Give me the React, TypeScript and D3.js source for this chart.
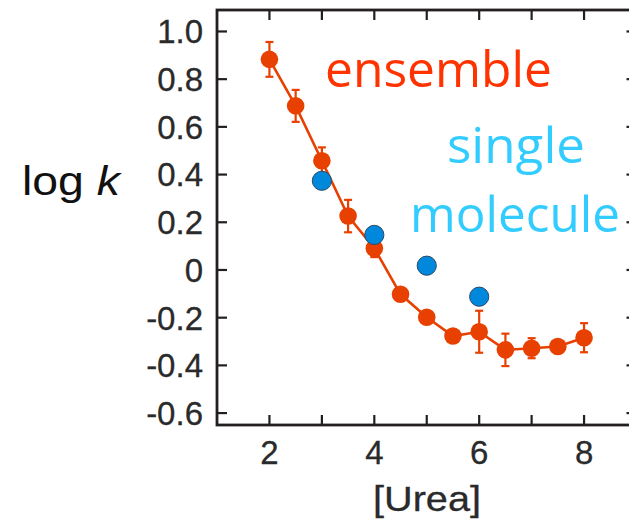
import React from "react";
import * as d3 from "d3";

const ureaX = [2, 2.5, 3, 3.5, 4, 4.5, 5, 5.5, 6, 6.5, 7, 7.5, 8];
const ensembleLogK = [0.883, 0.688, 0.458, 0.226, 0.091, -0.102, -0.198, -0.277, -0.259, -0.335, -0.328, -0.321, -0.284];
const ensembleErr = [0.073, 0.067, 0.056, 0.068, 0.037, 0.02, 0.02, 0.02, 0.088, 0.068, 0.042, 0.02, 0.061];
const singleX = [3, 4, 5, 6];
const singleLogK = [0.374, 0.147, 0.018, -0.112];
const xTicks = [2, 3, 4, 5, 6, 7, 8];
const xTickLabels = [2, 4, 6, 8];
const yTicks = [1.0, 0.8, 0.6, 0.4, 0.2, 0, -0.2, -0.4, -0.6];

const W = 629;
const H = 521;
const L = 217, R = 636.5, T = 10, B = 425;

export default function App() {
  const x = d3.scaleLinear().domain([1, 9]).range([L, R]);
  const y = d3.scaleLinear().domain([-0.65, 1.09]).range([B, T]);
  const line = d3
    .line<number>()
    .x((_, i) => x(ureaX[i]))
    .y((d) => y(d));
  const red = "#e84000";
  const axisColor = "#231f20";
  const tickLen = 10;
  const fmtY = (v: number) => (Math.abs(v) < 1e-9 ? "0" : v.toFixed(1));
  const txt = "#2a2a2a";
  return (
    <svg
      width={W}
      height={H}
      style={{ position: "absolute", left: 0, top: 0, background: "#fff" }}
      fontFamily="'Liberation Sans', Arial, sans-serif"
    >
      {/* frame */}
      <rect x={L} y={T} width={R - L} height={B - T} fill="none" stroke={axisColor} strokeWidth={2.8} />
      {/* x ticks */}
      {xTicks.map((t) => (
        <g key={"xt" + t}>
          <line x1={x(t)} x2={x(t)} y1={B} y2={B - tickLen} stroke={axisColor} strokeWidth={2.2} />
          <line x1={x(t)} x2={x(t)} y1={T} y2={T + tickLen} stroke={axisColor} strokeWidth={2.2} />
        </g>
      ))}
      {xTickLabels.map((t) => (
        <text key={"xl" + t} x={x(t)} y={464} fontSize={33} textAnchor="middle" fill={txt} stroke={txt} strokeWidth={0.3}>
          {t}
        </text>
      ))}
      {/* y ticks */}
      {yTicks.map((t) => (
        <g key={"yt" + t}>
          <line x1={L} x2={L + tickLen} y1={y(t)} y2={y(t)} stroke={axisColor} strokeWidth={2.2} />
          <line x1={R} x2={R - tickLen} y1={y(t)} y2={y(t)} stroke={axisColor} strokeWidth={2.2} />
          <text x={203} y={y(t)} dy="0.36em" fontSize={33} textAnchor="end" fill={txt} stroke={txt} strokeWidth={0.3}>
            {fmtY(t)}
          </text>
        </g>
      ))}
      {/* axis labels */}
      <text x={373} y={511} fontSize={35} fill={txt} stroke={txt} strokeWidth={0.3} textLength={108} lengthAdjust="spacingAndGlyphs">
        [Urea]
      </text>
      <text x={22} y={195} fontSize={41} fill="#111" textLength={98} lengthAdjust="spacingAndGlyphs">
        log <tspan fontStyle="italic">k</tspan>
      </text>
      {/* ensemble line */}
      <path d={line(ensembleLogK) || ""} fill="none" stroke={red} strokeWidth={2.6} />
      {/* error bars */}
      {ureaX.map((xv, i) => {
        const top = y(ensembleLogK[i] + ensembleErr[i]);
        const bot = y(ensembleLogK[i] - ensembleErr[i]);
        const cx = x(xv);
        return (
          <g key={"eb" + i} stroke={red} strokeWidth={2.2}>
            <line x1={cx} x2={cx} y1={top} y2={bot} />
            <line x1={cx - 4} x2={cx + 4} y1={top} y2={top} />
            <line x1={cx - 4} x2={cx + 4} y1={bot} y2={bot} />
          </g>
        );
      })}
      {ureaX.map((xv, i) => (
        <circle key={"ep" + i} cx={x(xv)} cy={y(ensembleLogK[i])} r={8.8} fill={red} />
      ))}
      {/* single molecule */}
      {singleX.map((xv, i) => (
        <circle key={"sp" + i} cx={x(xv)} cy={y(singleLogK[i])} r={9.6} fill="#0088dd" stroke="#2a4a66" strokeWidth={1} />
      ))}
      {/* annotations */}
      <text x={325} y={87} fontSize={50} fill="#ff3300" fontFamily="'Open Sans', sans-serif" textLength={227} lengthAdjust="spacingAndGlyphs">
        ensemble
      </text>
      <text x={447} y={163} fontSize={50} fill="#33ccff" fontFamily="'Open Sans', sans-serif" textLength={138} lengthAdjust="spacingAndGlyphs">
        single
      </text>
      <text x={410} y={232} fontSize={50} fill="#33ccff" fontFamily="'Open Sans', sans-serif" textLength={210} lengthAdjust="spacingAndGlyphs">
        molecule
      </text>
    </svg>
  );
}
